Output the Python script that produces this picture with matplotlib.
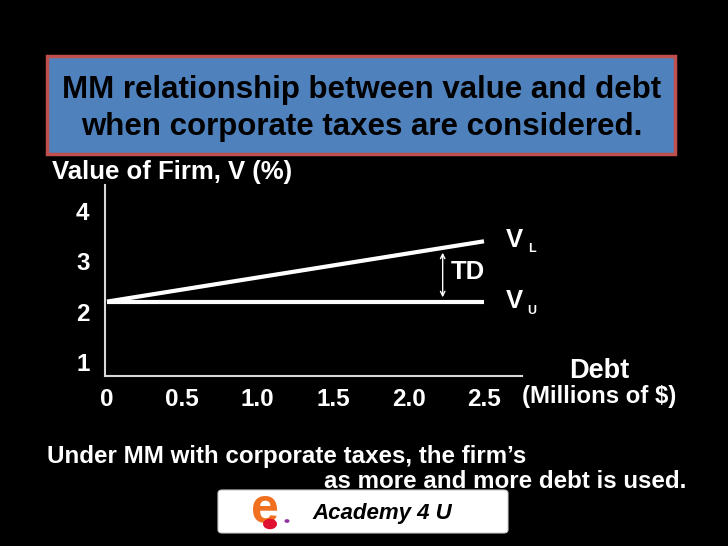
import matplotlib
matplotlib.use("Agg")
import matplotlib.pyplot as plt
from matplotlib.patches import Rectangle, FancyBboxPatch, Circle

# ---- data ----
debt = [0.0, 2.5]
v_unlevered = [2.2, 2.2]
v_levered = [2.2, 3.4]
x_ticks = [0, 0.5, 1.0, 1.5, 2.0, 2.5]
x_tick_labels = ["0", "0.5", "1.0", "1.5", "2.0", "2.5"]
y_ticks = [1, 2, 3, 4]
y_tick_labels = ["1", "2", "3", "4"]

plt.rcParams['font.family'] = ['Liberation Sans', 'DejaVu Sans']

W, H = 728, 546
fig = plt.figure(figsize=(W / 100, H / 100), dpi=100, facecolor='black')

def P(x, y):
    return (x / W, 1 - y / H)

# title box
x0, y0 = P(47, 154)
fig.patches.append(Rectangle((x0, y0), (675 - 47) / W, (154 - 56) / H,
                             transform=fig.transFigure, facecolor='#4F81BD',
                             edgecolor='#C0504D', lw=2.5, zorder=0))
fig.text(*P(362, 90), "MM relationship between value and debt", ha='center', va='center',
         fontsize=22.5, fontweight='bold', color='black')
fig.text(*P(362, 127), "when corporate taxes are considered.", ha='center', va='center',
         fontsize=22.5, fontweight='bold', color='black')

# axes
ax = fig.add_axes([105 / W, 1 - 376 / H, (522 - 105) / W, (376 - 185) / H])
ax.set_facecolor('black')
ax.plot(debt, v_unlevered, color='white', lw=3, solid_capstyle='butt')
ax.plot(debt, v_levered, color='white', lw=3, solid_capstyle='butt')
ax.set_xlim(-0.013, 2.752)
ax.set_ylim(0.72, 4.52)
for s in ['top', 'right']:
    ax.spines[s].set_visible(False)
for s in ['left', 'bottom']:
    ax.spines[s].set_color('#d9d9d9')
    ax.spines[s].set_linewidth(1.5)
ax.set_xticks(x_ticks)
ax.set_xticklabels(x_tick_labels)
ax.set_yticks(y_ticks)
ax.set_yticklabels(y_tick_labels)
ax.tick_params(axis='x', length=0, colors='white', labelsize=17.5, pad=9)
ax.tick_params(axis='y', length=0, colors='white', labelsize=17.5, pad=16)
for lab in ax.get_xticklabels() + ax.get_yticklabels():
    lab.set_fontweight('bold')
    lab.set_horizontalalignment('center')

# TD arrow
ax.annotate('', xy=(2.226, v_levered[0] + (v_levered[1] - v_levered[0]) * 2.226 / 2.5 - 0.04),
            xytext=(2.226, v_unlevered[0] + 0.03),
            arrowprops=dict(arrowstyle='<->', color='white', lw=1, mutation_scale=8))
fig.text(*P(468, 272), "TD", ha='center', va='center', fontsize=18.5, fontweight='bold', color='white')
fig.text(*P(506, 240), "V", ha='left', va='center', fontsize=18.5, fontweight='bold', color='white')
fig.text(*P(528, 249), "L", ha='left', va='center', fontsize=9, fontweight='bold', color='white')
fig.text(*P(506, 301), "V", ha='left', va='center', fontsize=18.5, fontweight='bold', color='white')
fig.text(*P(527, 311), "U", ha='left', va='center', fontsize=9, fontweight='bold', color='white')

# axis labels
fig.text(*P(52, 172), "Value of Firm, V (%)", ha='left', va='center', fontsize=18.5,
         fontweight='bold', color='white')
fig.text(*P(599, 371), "Debt", ha='center', va='center', fontsize=19.5, fontweight='bold', color='white')
fig.text(*P(599, 397), "(Millions of $)", ha='center', va='center', fontsize=17.3,
         fontweight='bold', color='white')

# bottom text
fig.text(*P(47, 456), "Under MM with corporate taxes, the firm\u2019s", ha='left', va='center',
         fontsize=17.4, fontweight='bold', color='white')
fig.text(*P(686, 482), "as more and more debt is used.", ha='right', va='center',
         fontsize=17.4, fontweight='bold', color='white')

# logo
lx0, ly0 = P(218, 533)
fig.patches.append(FancyBboxPatch((lx0, ly0), (508 - 218) / W, (533 - 490) / H,
                                  boxstyle='round,pad=0,rounding_size=0.006',
                                  transform=fig.transFigure, facecolor='white',
                                  edgecolor='#cccccc', lw=0.8, zorder=1))
fig.text(*P(265, 510), "e", ha='center', va='center', fontsize=36, fontweight='bold',
         color='#F07020', zorder=3)
fig.patches.append(Circle(P(270, 524), 7 / W, transform=fig.transFigure,
                          facecolor='#E01030', edgecolor='none', zorder=4))
fig.patches.append(Circle(P(287, 521), 2.5 / W, transform=fig.transFigure,
                          facecolor='#9030A0', edgecolor='none', zorder=4))
fig.text(*P(382, 514), "Academy 4 U", ha='center', va='center', fontsize=16,
         fontweight='bold', style='italic', color='black', zorder=3)

fig.savefig('out.png', dpi=100, facecolor='black')
